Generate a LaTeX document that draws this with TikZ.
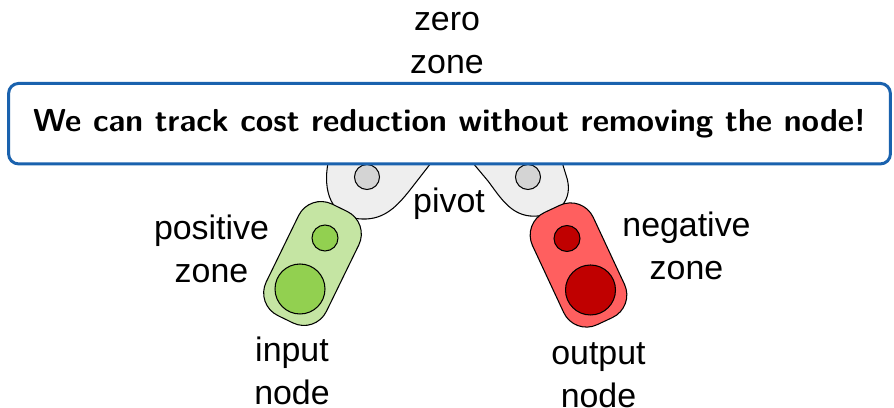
\documentclass[tikz,border=0pt]{standalone}
\usepackage{fontspec}
\usetikzlibrary{positioning}
\newfontfamily\zonefont{Liberation Sans}
\definecolor{posfill}{HTML}{C5E5A3}
\definecolor{posdot}{HTML}{92D050}
\definecolor{negfill}{HTML}{FF5F5F}
\definecolor{negdot}{HTML}{C00000}
\definecolor{zerofill}{HTML}{EEEEEE}
\definecolor{zerodot}{HTML}{D4D4D4}
\definecolor{noteblue}{HTML}{1A62AE}
\tikzset{
  zone/.style={
    rectangle,
    rounded corners=0.5cm,
    draw=black,
    line width=0.6pt,
    minimum width=1.34cm,
    minimum height=2.48cm
  },
  dot/.style={
    circle,
    draw=black,
    line width=0.6pt,
    inner sep=0pt
  },
  smalldot/.style={dot, minimum size=0.52cm},
  bigdot/.style={dot, minimum size=1.0cm},
  zonelabel/.style={
    font=\zonefont\fontsize{19.3}{24.4}\selectfont,
    align=center,
    inner sep=0pt
  },
  notebox/.style={
    rectangle,
    rounded corners=0.2cm,
    draw=noteblue,
    line width=1.7pt,
    fill=white,
    minimum width=17.64cm,
    minimum height=1.61cm,
    font=\sffamily\bfseries\fontsize{18.1}{21}\selectfont
  }
}

\begin{document}
\begin{tikzpicture}[x=0.02cm, y=-0.02cm]
  \useasboundingbox (0,0) rectangle (894,408);

  % zero zone blob, its top hides behind the note
  \draw[fill=zerofill, line width=0.6pt]
    (335,100) -- (328,163) .. controls (323,190) and (330,218) .. (362,219)
    .. controls (385,220) and (398,205) .. (410,190) -- (438,154)
    .. controls (444,146) and (456,144) .. (462,150) -- (488,181)
    .. controls (500,197) and (510,214) .. (530,216)
    .. controls (558,218) and (575,200) .. (566,175) -- (562,162)
    -- (555,100) -- cycle;
  \node[smalldot, fill=zerodot, minimum size=0.5cm] (zleft) at (367,177) {};
  \node[smalldot, fill=zerodot, minimum size=0.5cm] (zright) at (528,177) {};

  % positive side
  \node[zone, fill=posfill, rotate=-26] (poszone) at (312.5,263.5) {};
  \node[smalldot, fill=posdot] (posdot) at (325,238) {};
  \node[bigdot, fill=posdot] (innode) at (300,289) {};

  % negative side
  \node[zone, fill=negfill, rotate=25] (negzone) at (578.5,265) {};
  \node[smalldot, fill=negdot] (negdot) at (567,238.5) {};
  \node[bigdot, fill=negdot] (outnode) at (590.5,290) {};

  \node[zonelabel] (zerolbl) at (447,42.7) {zero\\zone};
  \node[zonelabel] (poslbl) at (211.5,248.5) {positive\\zone};
  \node[zonelabel] (pivotlbl) at (449,203.4) {pivot};
  \node[zonelabel] (neglbl) at (686.5,246) {negative\\zone};
  \node[zonelabel] (inlbl) at (292,370.5) {input\\node};
  \node[zonelabel] (outlbl) at (598.5,375.5) {output\\node};

  \node[notebox] (note) at (449.5,123.7) {We can track cost reduction without removing the node!};
\end{tikzpicture}
\end{document}
